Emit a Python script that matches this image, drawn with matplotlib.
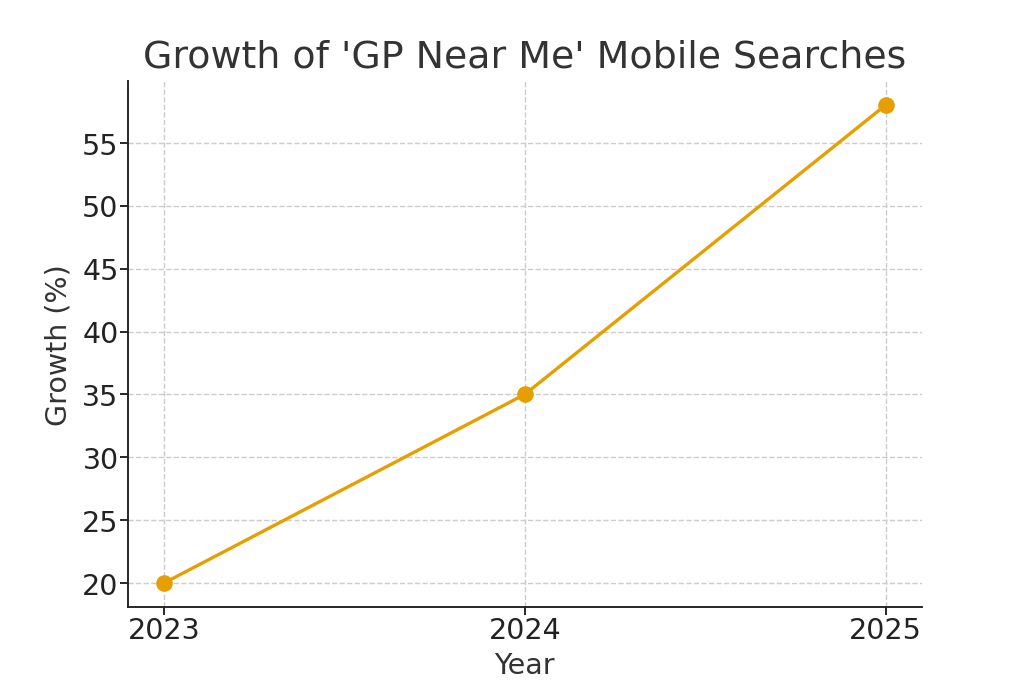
import matplotlib
matplotlib.use("Agg")
import matplotlib.pyplot as plt

years = [2023, 2024, 2025]
growth = [20, 35, 58]

plt.rcParams['text.color'] = '#333333'
plt.rcParams['axes.labelcolor'] = '#333333'
plt.rcParams['xtick.color'] = '#222222'
plt.rcParams['ytick.color'] = '#222222'

fig, ax = plt.subplots(figsize=(6, 4), dpi=1024 / 6)
ax.plot(years, growth, marker='o', color='#E69F00', linewidth=1.4, markersize=6)
ax.set_title("Growth of 'GP Near Me' Mobile Searches", fontsize=16)
ax.set_xlabel("Year", fontsize=12, labelpad=3)
ax.set_ylabel("Growth (%)", fontsize=12)
ax.set_xticks(years)
ax.tick_params(axis='both', labelsize=12, pad=0.5)
ax.grid(True, linestyle='--', color='#cccccc', linewidth=0.6)
ax.set_axisbelow(True)
ax.spines['top'].set_visible(False)
ax.spines['right'].set_visible(False)
for s in ['left', 'bottom']:
    ax.spines[s].set_color('#222222')

fig.savefig("out.png")
